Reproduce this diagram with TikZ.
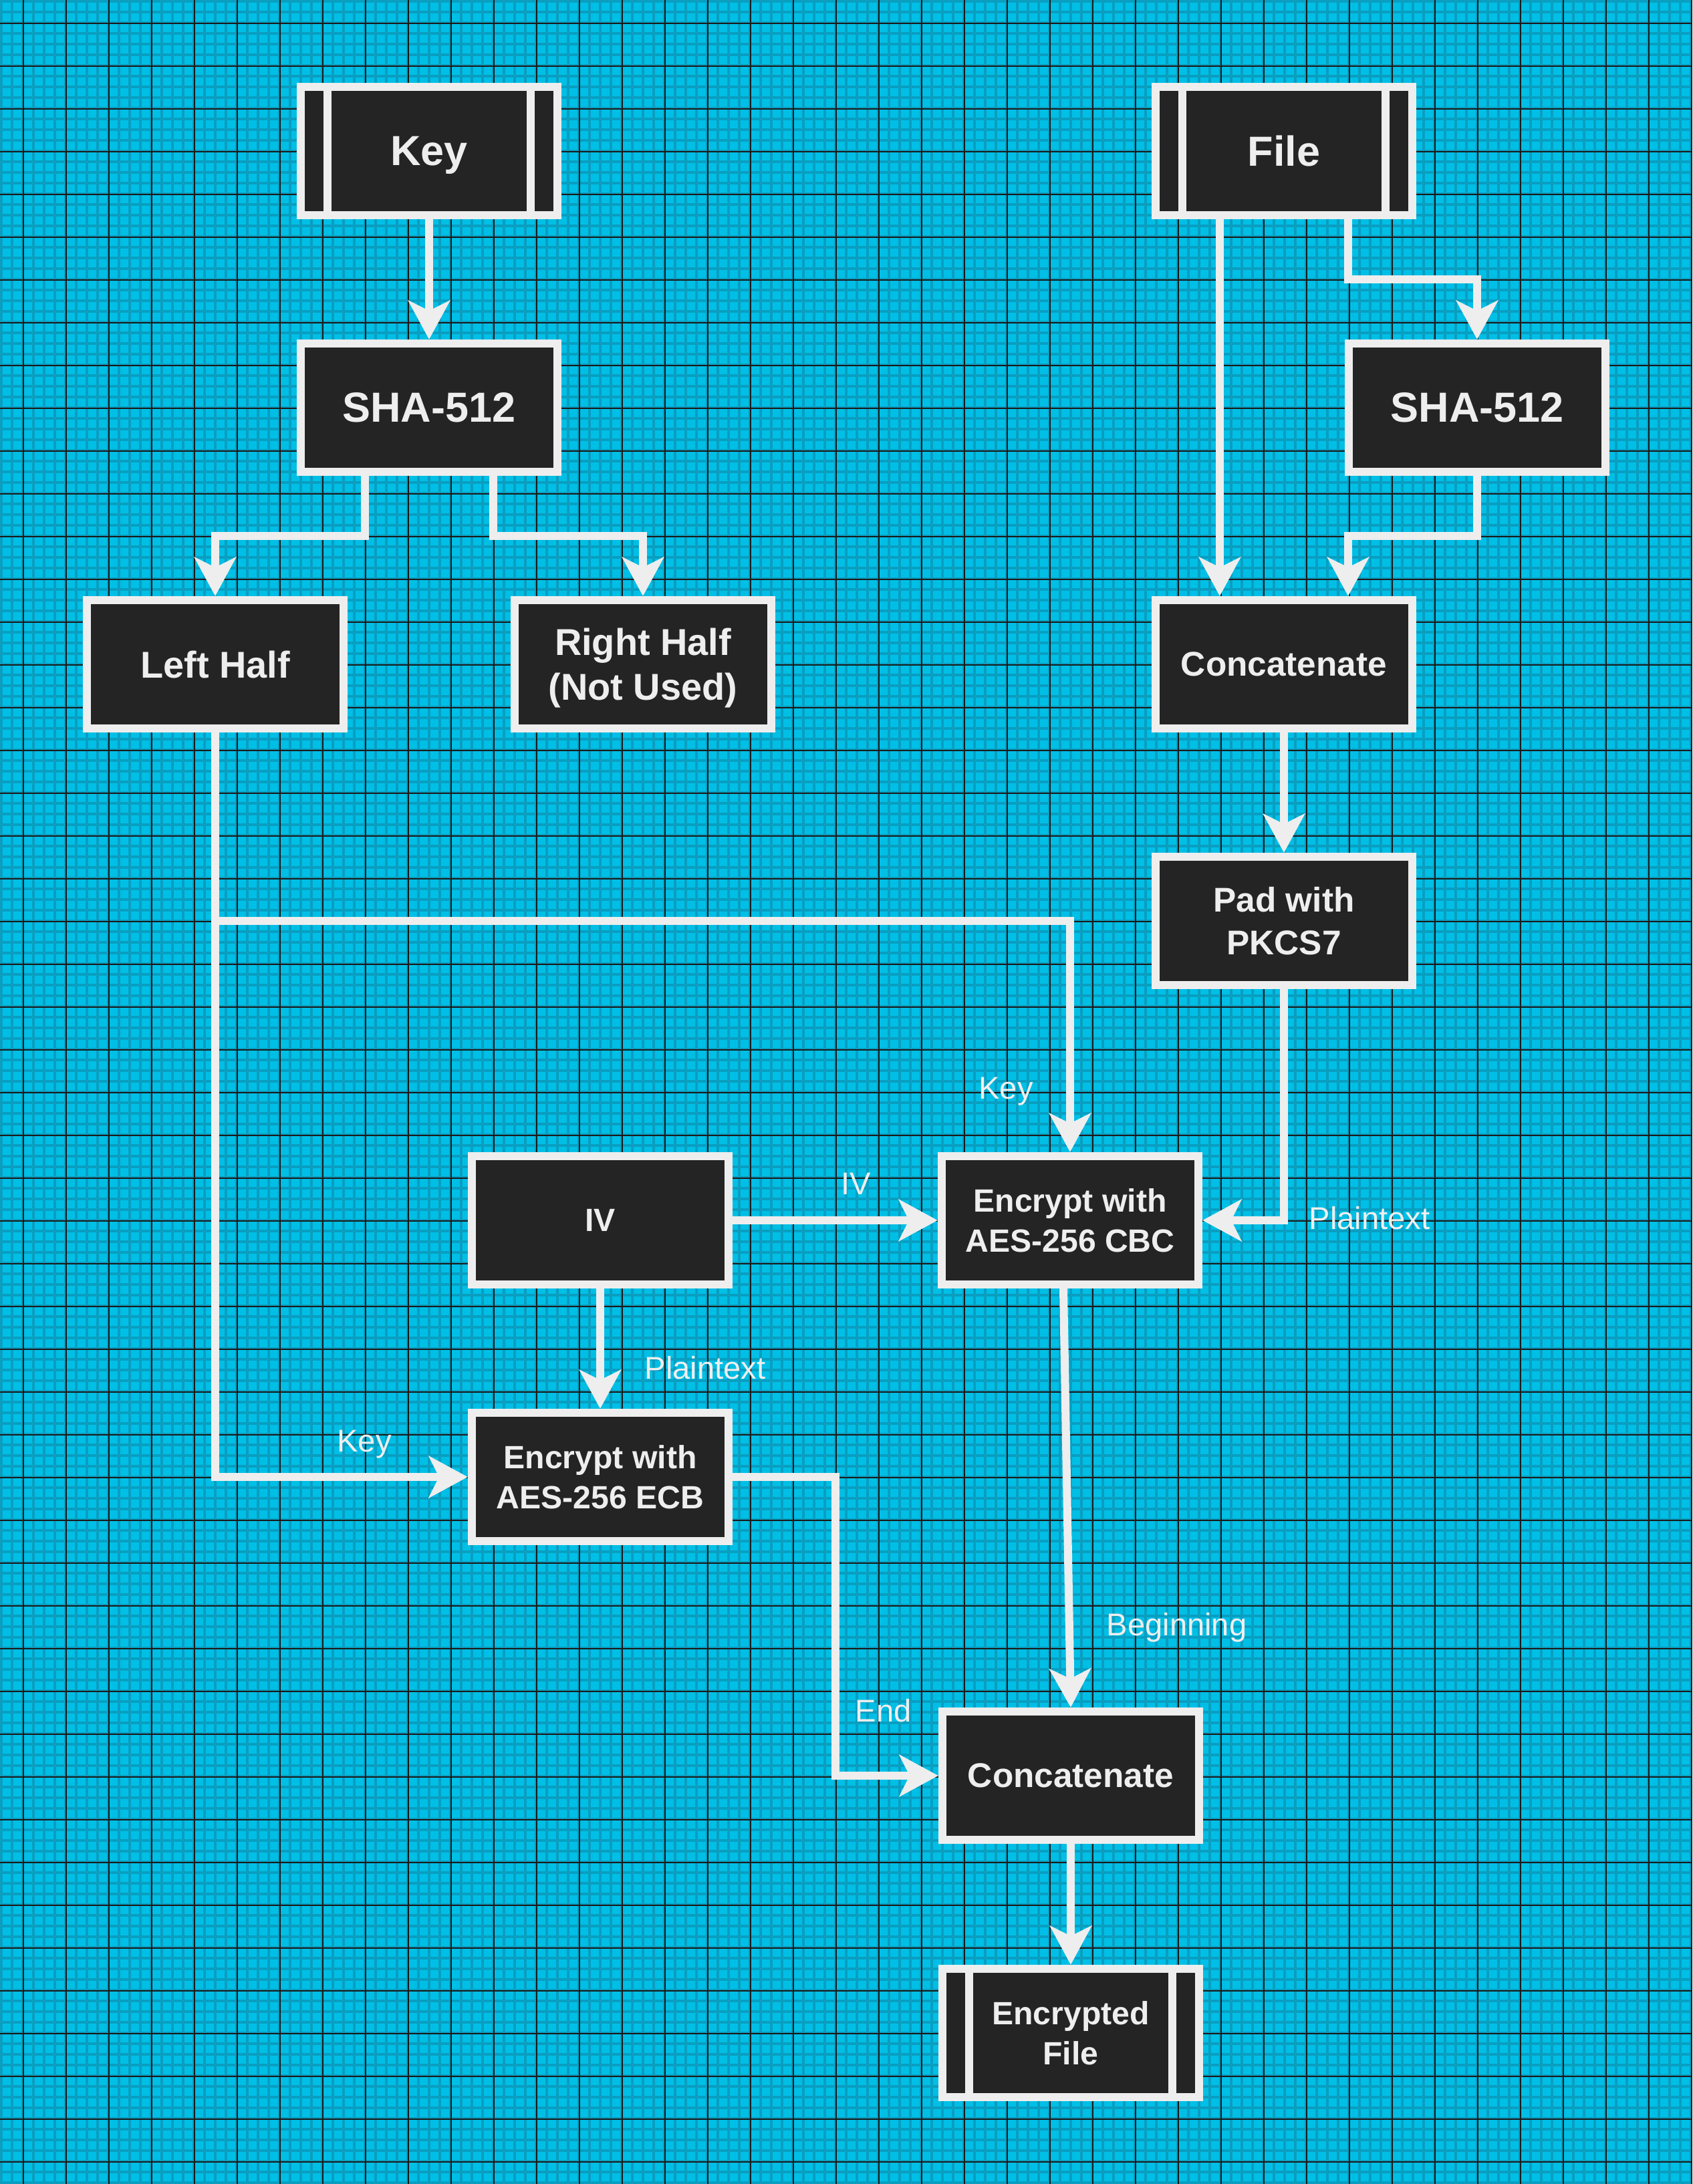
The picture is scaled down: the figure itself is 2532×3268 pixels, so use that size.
\documentclass[tikz,border=0pt]{standalone}
\usepackage{fontspec}
\setmainfont{Liberation Sans}
\usepackage{tikz}
\usetikzlibrary{arrows.meta}

\definecolor{gridbg}{HTML}{00BFE6}
\definecolor{gridminor}{HTML}{0A9EC0}
\definecolor{gridmajor}{HTML}{1A1A1A}
\definecolor{boxfill}{HTML}{242424}
\definecolor{boxline}{HTML}{EEEEEE}

\begin{document}
\begin{tikzpicture}[x=0.01cm, y=-0.01cm,
  box/.style={draw=boxline, fill=boxfill, line width=0.12cm,
    minimum width=3.84cm, minimum height=1.92cm, inner sep=0pt,
    text=boxline, align=center, text depth=0pt},
  io/.style={box, path picture={
    \draw[boxline, line width=0.12cm]
      ([xshift=0.4cm]path picture bounding box.north west) --
      ([xshift=0.4cm]path picture bounding box.south west);
    \draw[boxline, line width=0.12cm]
      ([xshift=-0.4cm]path picture bounding box.north east) --
      ([xshift=-0.4cm]path picture bounding box.south east);}},
  fbig/.style={font=\fontsize{17.9}{21.5}\selectfont\bfseries},
  fmid/.style={font=\fontsize{15.9}{19.1}\selectfont\bfseries},
  fcat/.style={font=\fontsize{14.6}{18.2}\selectfont\bfseries},
  fsmall/.style={font=\fontsize{13.7}{16.8}\selectfont\bfseries},
  lbl/.style={text=boxline, inner sep=0pt, font=\fontsize{13.4}{16}\selectfont},
  flow/.style={draw=boxline, line width=0.12cm,
    -{Stealth[length=0.58cm, width=0.62cm, inset=0.15cm]}},
  wire/.style={draw=boxline, line width=0.12cm}]

\useasboundingbox (0,0) rectangle (2532,3268);

% Background grid
\fill[gridbg] (0,0) rectangle (2532,3268);
\foreach \i in {0,...,158}
  \draw[gridminor, line width=0.035cm] (16*\i+1.75,0) -- (16*\i+1.75,3268);
\foreach \j in {0,...,204}
  \draw[gridminor, line width=0.035cm] (0,16*\j+1.75) -- (2532,16*\j+1.75);
\foreach \i in {0,...,39}
  \draw[gridmajor, line width=0.013cm] (35+64*\i,0) -- (35+64*\i,3268);
\foreach \j in {0,...,50}
  \draw[gridmajor, line width=0.013cm] (0,35+64*\j) -- (2532,35+64*\j);

% Inputs
\node[io, fbig] (key) at (642,226) {Key};
\node[io, fbig] (file) at (1921,226) {File};

% Hashing
\node[box, fbig] (shaL) at (642,610) {SHA-512};
\node[box, fbig] (shaR) at (2210,610) {SHA-512};
\node[box, fmid] (lefthalf) at (322,994) {Left Half};
\node[box, fmid] (righthalf) at (962,994) {Right Half\\(Not Used)};
\node[box, fcat] (catA) at (1921,994) {Concatenate};
\node[box, fcat] (pad) at (1921,1378) {Pad with\\PKCS7};

% Encryption
\node[box, fsmall] (iv) at (898,1826) {IV};
\node[box, fsmall] (cbc) at (1601,1826) {Encrypt with\\AES-256 CBC};
\node[box, fsmall] (ecb) at (898,2210) {Encrypt with\\AES-256 ECB};
\node[box, fcat] (catB) at (1602,2657) {Concatenate};
\node[io, fsmall] (encfile) at (1602,3042) {Encrypted\\File};

% Key side
\draw[flow] (key) -- (shaL);
\draw[flow] ([xshift=-0.96cm]shaL.south) -- ++(0,90) -| (lefthalf.north);
\draw[flow] ([xshift=0.96cm]shaL.south) -- ++(0,90) -| (righthalf.north);

% File side
\draw[flow] ([xshift=-0.96cm]file.south) -- ([xshift=-0.96cm]catA.north);
\draw[flow] ([xshift=0.96cm]file.south) -- ++(0,90) -| (shaR.north);
\draw[flow] (shaR.south) -- ++(0,90) -| ([xshift=0.96cm]catA.north);
\draw[flow] (catA) -- (pad);
\draw[flow] (pad.south) |- (cbc.east);

% Left half as key
\draw[flow] (lefthalf.south) -- (lefthalf.south |- pad) -| (cbc.north);
\draw[flow] (lefthalf.south) |- (ecb.west);

% IV
\draw[flow] (iv) -- (cbc);
\draw[flow] (iv) -- (ecb);

% Output
\draw[flow] (ecb.east) -- ++(154,0) |- (catB.west);
\draw[flow] ([xshift=-0.1cm]cbc.south) -- (catB.north);
\draw[flow] (catB) -- (encfile);

% Edge labels
\node[lbl, anchor=base] (lblkeyB) at (1505,1644) {Key};
\node[lbl, anchor=base] (lbliv) at (1281,1787) {IV};
\node[lbl, anchor=base west] (lblptA) at (1958,1839) {Plaintext};
\node[lbl, anchor=base west] (lblptB) at (964,2063) {Plaintext};
\node[lbl, anchor=base] (lblkeyA) at (545,2172) {Key};
\node[lbl, anchor=base west] (lblbegin) at (1655,2447) {Beginning};
\node[lbl, anchor=base west] (lblend) at (1279,2576) {End};

\end{tikzpicture}
\end{document}
